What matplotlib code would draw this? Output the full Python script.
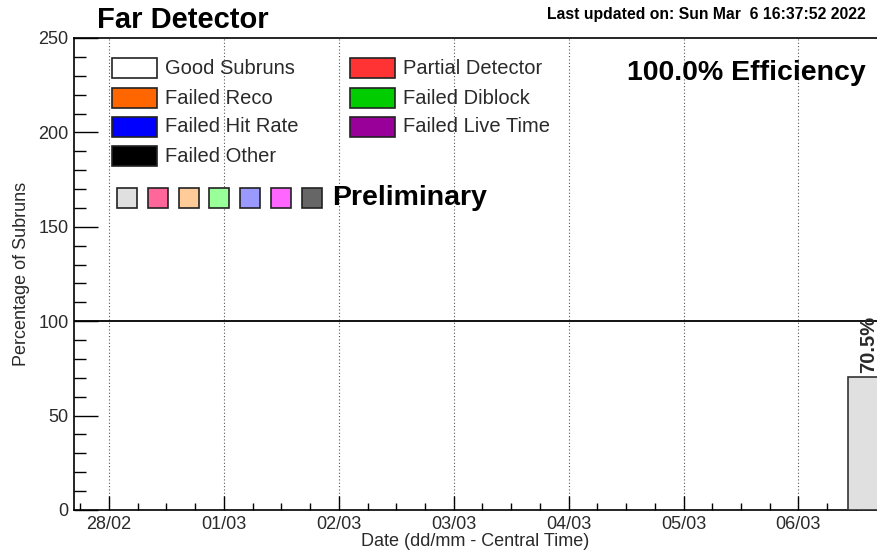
import numpy as np
import matplotlib.pyplot as plt
from matplotlib.patches import Rectangle
from matplotlib.ticker import MultipleLocator

plt.rcParams['font.family'] = ['Liberation Sans', 'DejaVu Sans']

# days since 28/02 00:00 (Central Time)
day_labels = ['28/02', '01/03', '02/03', '03/03', '04/03', '05/03', '06/03']
bar_start = [6.435]
bar_width = [0.31]
good_pct = [70.5]
efficiency = 100.0

legend_labels = ['Good Subruns', 'Failed Reco', 'Failed Hit Rate', 'Failed Other',
                 'Partial Detector', 'Failed Diblock', 'Failed Live Time']
legend_colors = ['#ffffff', '#ff6600', '#0000ff', '#000000',
                 '#ff3333', '#00cc00', '#990099']
prelim_colors = ['#e0e0e0', '#ff6699', '#ffcc99', '#99ff99', '#9999ff', '#ff66ff', '#666666']

W, H = 877, 557
fig = plt.figure(figsize=(W / 100, H / 100), dpi=100)

def fx(px):
    return px / W

def fy(py):
    return 1 - py / H

txt = '#2a2a2a'

ax = fig.add_axes([fx(74), fy(510), fx(877) - fx(74), fy(38) - fy(510)])
ax.set_xlim(-0.305, 6.684)
ax.set_ylim(0, 250)

ax.bar(bar_start, good_pct, width=bar_width, align='edge',
       color=prelim_colors[0], edgecolor='#333333', linewidth=1.2, zorder=3)
for x0, w, v in zip(bar_start, bar_width, good_pct):
    ax.text(x0 + w / 2 + 0.02, v + 2, f'{v:.1f}%', rotation=90, ha='center', va='bottom',
            fontsize=14.5, fontweight='bold', color=txt, zorder=4)

ax.axhline(100, color='black', linewidth=1.3, zorder=2)

ax.set_xticks(range(len(day_labels)))
ax.set_xticklabels(day_labels, fontsize=13)
ax.xaxis.set_minor_locator(MultipleLocator(0.25))
ax.yaxis.set_major_locator(MultipleLocator(50))
ax.yaxis.set_minor_locator(MultipleLocator(10))
ax.tick_params(axis='y', which='major', direction='in', length=17, width=1, labelsize=13, pad=4)
ax.tick_params(axis='y', which='minor', direction='in', length=8.5, width=1)
ax.tick_params(axis='x', which='major', direction='in', length=10, width=1, labelsize=13, pad=4)
ax.tick_params(axis='x', which='minor', direction='in', length=5, width=1)
for lab in ax.get_yticklabels() + ax.get_xticklabels():
    lab.set_color(txt)

ax.grid(axis='x', which='major', linestyle=(0, (1, 2)), color='#555555', linewidth=0.8)
ax.set_axisbelow(True)
for s in ['left', 'bottom', 'top']:
    ax.spines[s].set_linewidth(1.2)
ax.spines['right'].set_visible(False)

ax.set_xlabel('Date (dd/mm - Central Time)', fontsize=13, labelpad=0, color=txt)
ax.set_ylabel('Percentage of Subruns', fontsize=13, labelpad=6, color=txt)

# legend boxes
rows_y = [68, 98, 127, 156]
for i, (lab, col) in enumerate(zip(legend_labels, legend_colors)):
    if i < 4:
        bx, ty = 112, rows_y[i]
    else:
        bx, ty = 350, rows_y[i - 4]
    fig.add_artist(Rectangle((fx(bx), fy(ty + 10)), fx(45), fy(0) - fy(20),
                             facecolor=col, edgecolor='#222222', linewidth=1.2,
                             transform=fig.transFigure))
    fig.text(fx(bx + 53), fy(ty), lab, fontsize=14.5, va='center', ha='left', color=txt)

for i, col in enumerate(prelim_colors):
    bx = 117 + i * 30.8
    fig.add_artist(Rectangle((fx(bx), fy(208)), fx(20), fy(0) - fy(20),
                             facecolor=col, edgecolor='#222222', linewidth=1.2,
                             transform=fig.transFigure))
fig.text(fx(332), fy(198), 'Preliminary', fontsize=20.5, fontweight='bold', va='center', ha='left')

fig.text(fx(866), fy(73), f'{efficiency:.1f}% Efficiency', fontsize=20.5, fontweight='bold',
         va='center', ha='right')
fig.text(fx(97), fy(20), 'Far Detector', fontsize=21, fontweight='bold', va='center', ha='left')
fig.text(fx(866), fy(15), 'Last updated on: Sun Mar  6 16:37:52 2022', fontsize=11.3,
         fontweight='bold', va='center', ha='right')

fig.savefig('out.png', dpi=100)
